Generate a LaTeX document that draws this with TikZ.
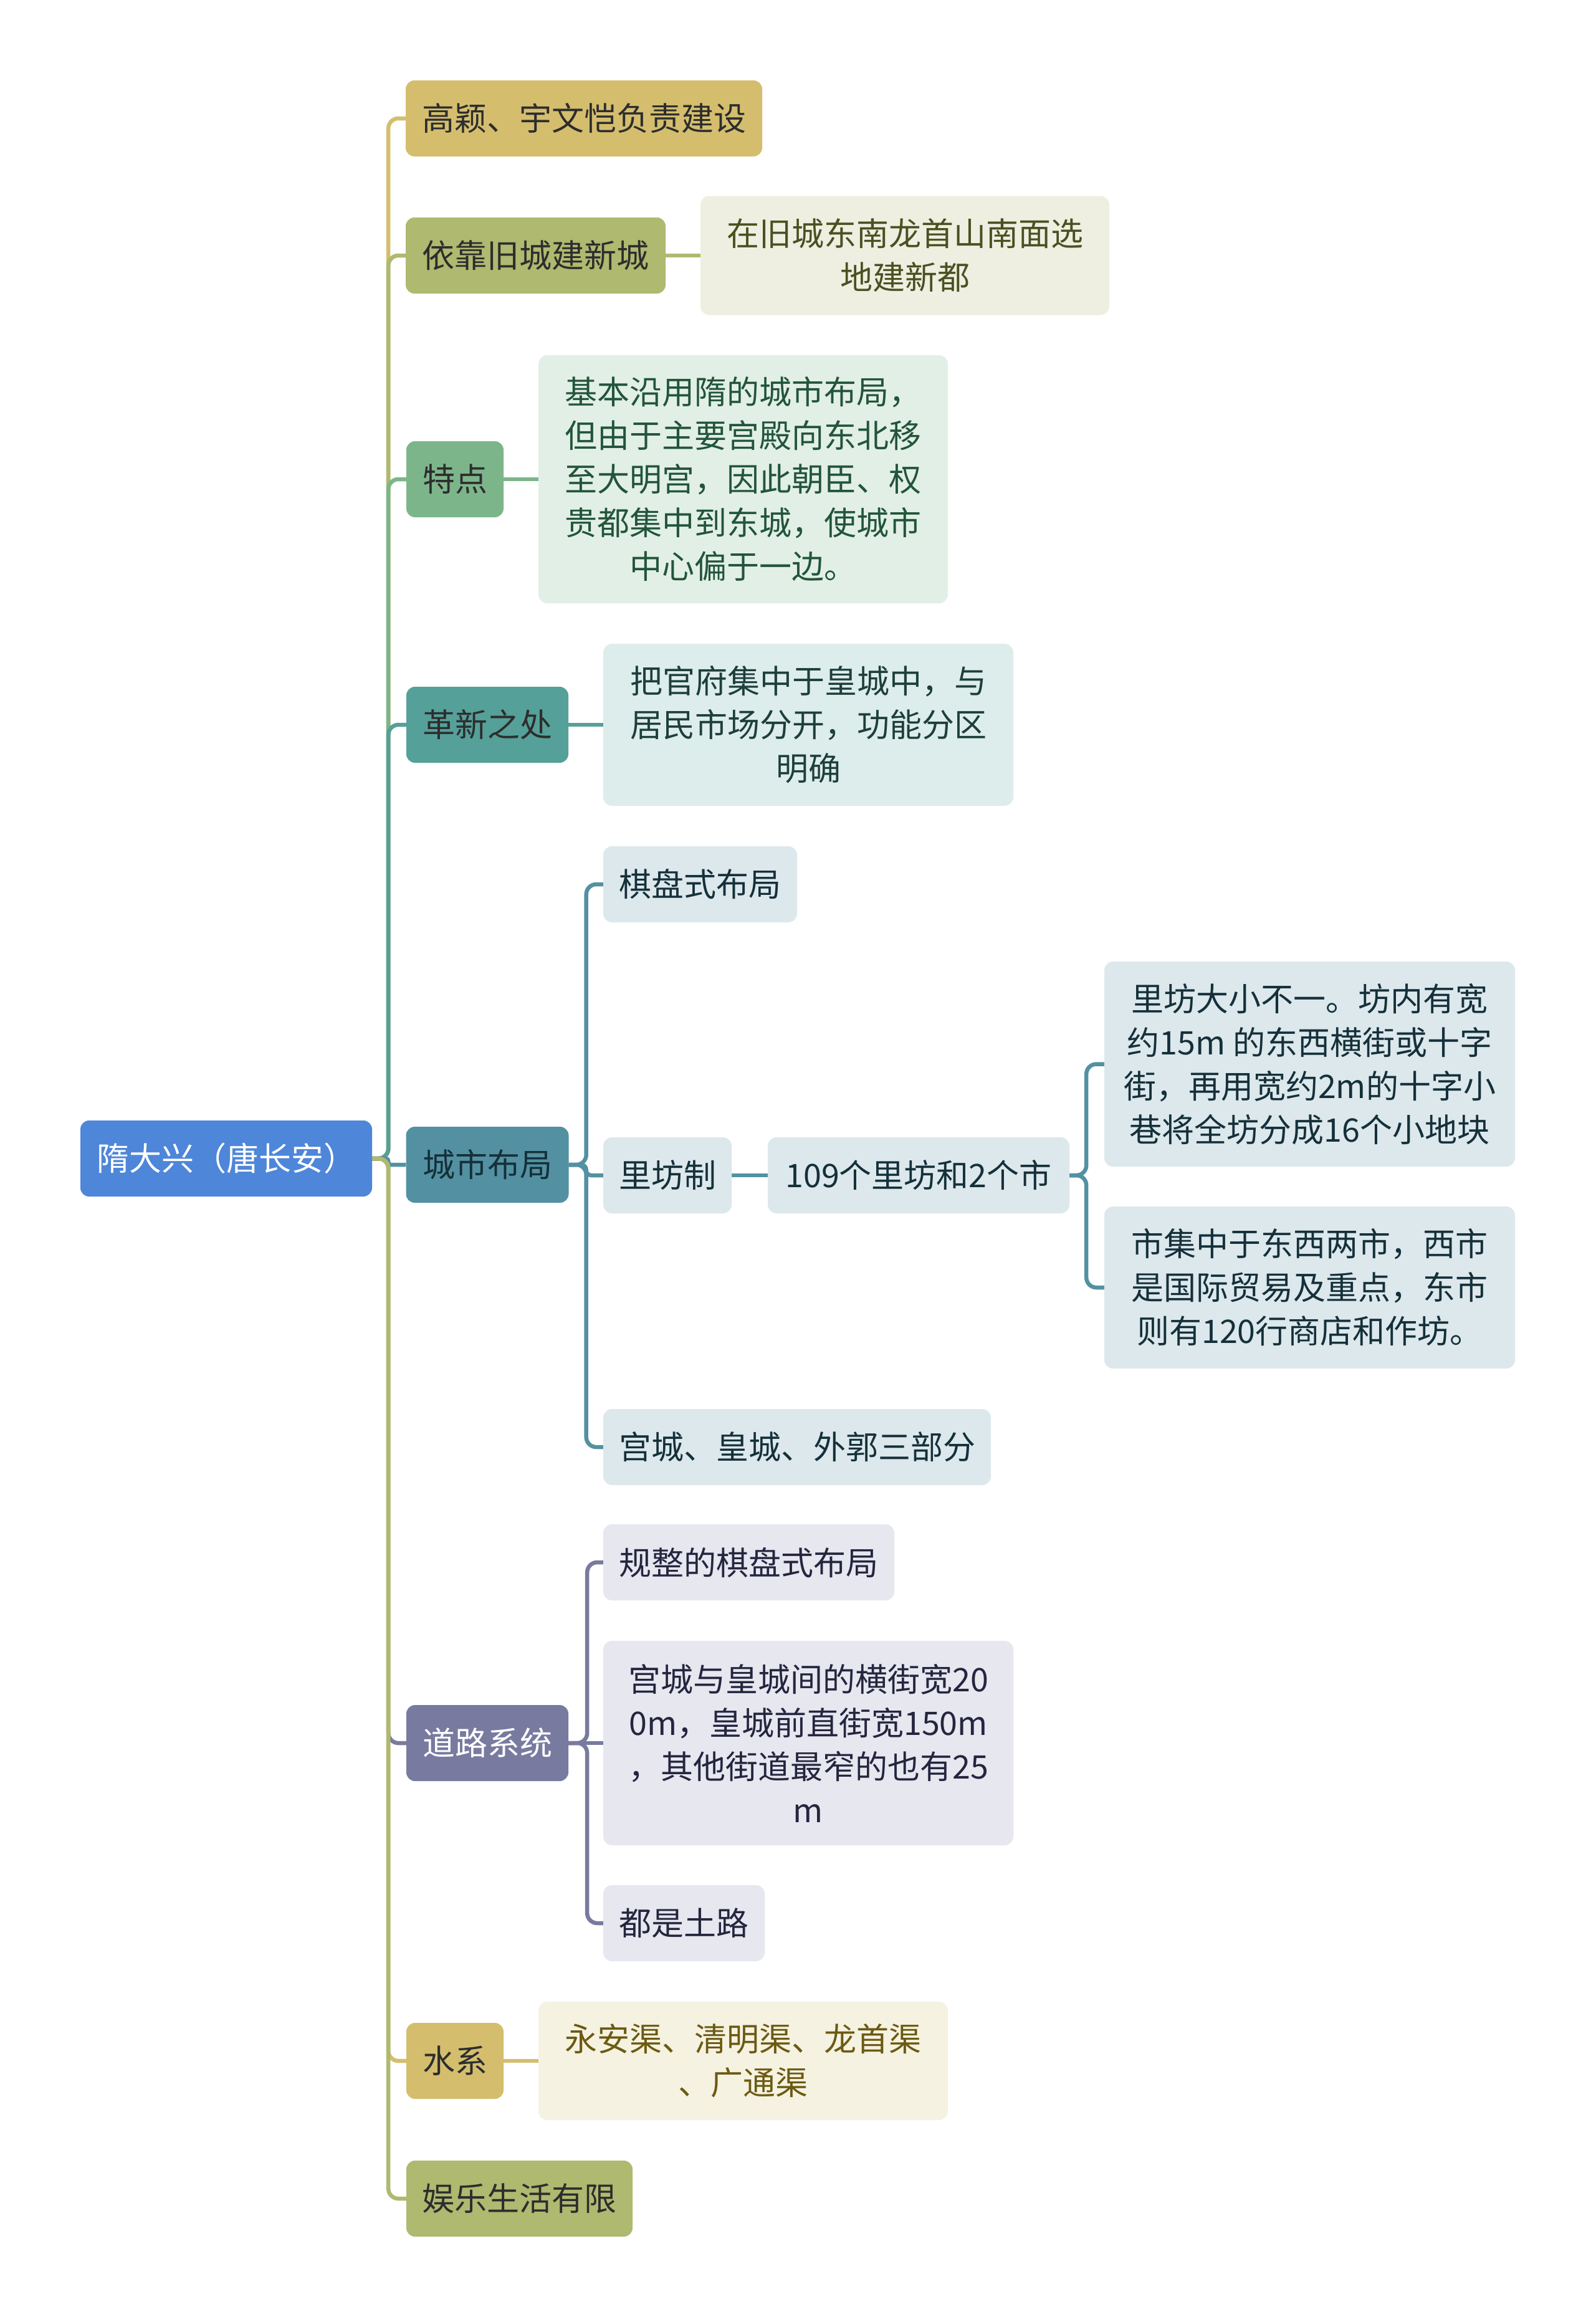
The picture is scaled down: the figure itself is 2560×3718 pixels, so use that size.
\documentclass[tikz,border=0pt]{standalone}
\usepackage{fontspec}
\setmainfont{Noto Sans CJK SC}
\usetikzlibrary{backgrounds}
\definecolor{cRoot}{HTML}{4E86DA}
\definecolor{cGold}{HTML}{D4BE6E}
\definecolor{cOlive}{HTML}{AFB96F}
\definecolor{cGreen}{HTML}{7DB58B}
\definecolor{cTeal}{HTML}{55A099}
\definecolor{cCity}{HTML}{5391A2}
\definecolor{cRoad}{HTML}{787A9F}
\definecolor{fOlive}{HTML}{EEEFE1}
\definecolor{tOlive}{HTML}{4A5020}
\definecolor{fGreen}{HTML}{E2EFE6}
\definecolor{tGreen}{HTML}{22553A}
\definecolor{fTeal}{HTML}{DDEDEB}
\definecolor{tTeal}{HTML}{1E3F3C}
\definecolor{fCity}{HTML}{DCE8EC}
\definecolor{tCity}{HTML}{15303A}
\definecolor{fRoad}{HTML}{E6E7EF}
\definecolor{tRoad}{HTML}{25253F}
\definecolor{fGold}{HTML}{F5F2E1}
\definecolor{tGold}{HTML}{6B5A12}
\definecolor{tDark}{HTML}{2D2D2D}
\begin{document}
\begin{tikzpicture}[x=1pt,y=-1pt,
  box/.style={rectangle, rounded corners=14pt, inner sep=0pt, align=center,
    font=\fontsize{52}{70}\selectfont},
  lone/.style={box, minimum height=122pt},
  link/.style={line width=6.5pt, rounded corners=16pt}]
\useasboundingbox (0,0) rectangle (2560,3718);

\node[lone, fill=cRoot, text=white, minimum width=468pt] (root) at (363,1859) {隋大兴（唐长安）};

\node[lone, fill=cGold, text=tDark, minimum width=572pt] (g1) at (937,190) {高颖、宇文恺负责建设};
\node[lone, fill=cOlive, text=tDark, minimum width=417pt] (g2) at (859.5,410) {依靠旧城建新城};
\node[box, fill=fOlive, text=tOlive, minimum width=656pt, minimum height=191pt] (g2c) at (1452,410) {在旧城东南龙首山南面选\\地建新都};
\node[lone, fill=cGreen, text=tDark, minimum width=156pt] (g3) at (730,769) {特点};
\node[box, fill=fGreen, text=tGreen, minimum width=657pt, minimum height=398pt] (g3c) at (1192.5,769) {基本沿用隋的城市布局，\\但由于主要宫殿向东北移\\至大明宫，因此朝臣、权\\贵都集中到东城，使城市\\中心偏于一边。};
\node[lone, fill=cTeal, text=tDark, minimum width=260pt] (g4) at (782,1163) {革新之处};
\node[box, fill=fTeal, text=tTeal, minimum width=658pt, minimum height=260pt] (g4c) at (1297,1163) {把官府集中于皇城中，与\\居民市场分开，功能分区\\明确};
\node[lone, fill=cCity, text=tCity, minimum width=261pt] (g5) at (782,1869) {城市布局};
\node[lone, fill=fCity, text=tCity, minimum width=311pt] (c1) at (1123.5,1419) {棋盘式布局};
\node[lone, fill=fCity, text=tCity, minimum width=206pt] (c2) at (1071,1886) {里坊制};
\node[lone, fill=fCity, text=tCity, minimum width=484pt] (c2a) at (1474,1886) {109个里坊和2个市};
\node[box, fill=fCity, text=tCity, minimum width=659pt, minimum height=329pt] (c2a1) at (2101.5,1707.5) {里坊大小不一。坊内有宽\\约15m 的东西横街或十字\\街，再用宽约2m的十字小\\巷将全坊分成16个小地块};
\node[box, fill=fCity, text=tCity, minimum width=659pt, minimum height=260pt] (c2a2) at (2101.5,2066) {市集中于东西两市，西市\\是国际贸易及重点，东市\\则有120行商店和作坊。};
\node[lone, fill=fCity, text=tCity, minimum width=622pt] (c3) at (1279,2322) {宫城、皇城、外郭三部分};
\node[lone, fill=cRoad, text=white, minimum width=260pt] (g6) at (782,2797) {道路系统};
\node[lone, fill=fRoad, text=tRoad, minimum width=467pt] (r1) at (1201.5,2507) {规整的棋盘式布局};
\node[box, fill=fRoad, text=tRoad, minimum width=658pt, minimum height=328pt] (r2) at (1297,2797) {宫城与皇城间的横街宽20\\0m，皇城前直街宽150m\\，其他街道最窄的也有25\\m};
\node[lone, fill=fRoad, text=tRoad, minimum width=259pt] (r3) at (1097.5,3086) {都是土路};
\node[lone, fill=cGold, text=tDark, minimum width=156pt] (g7) at (730,3307) {水系};
\node[box, fill=fGold, text=tGold, minimum width=657pt, minimum height=190pt] (g7c) at (1192.5,3307) {永安渠、清明渠、龙首渠\\、广通渠};
\node[lone, fill=cOlive, text=tDark, minimum width=363pt] (g8) at (833.5,3528) {娱乐生活有限};

\begin{scope}[on background layer]
\fill[white] (0,0) rectangle (2560,3718);
% level 1
\draw[link, cGold]  (root.east) -- ++(26,0) |- (g1.west);
\draw[link, cOlive] (root.east) -- ++(26,0) |- (g2.west);
\draw[link, cGreen] (root.east) -- ++(26,0) |- (g3.west);
\draw[link, cTeal]  (root.east) -- ++(26,0) |- (g4.west);
\draw[link, cCity, rounded corners=4pt] (root.east) -- ++(26,0) |- (g5.west);
\draw[link, cRoad]  (root.east) -- ++(26,0) |- (g6.west);
\draw[link, cGold]  (root.east) -- ++(26,0) |- (g7.west);
\draw[link, cOlive] (root.east) -- ++(26,0) |- (g8.west);
% direct children
\draw[link, cOlive] (g2.east) -- (g2c.west);
\draw[link, cGreen] (g3.east) -- (g3c.west);
\draw[link, cTeal]  (g4.east) -- (g4c.west);
\draw[link, cGold]  (g7.east) -- (g7c.west);
% city layout
\draw[link, cCity] (g5.east) -- ++(28,0) |- (c1.west);
\draw[link, cCity, rounded corners=8pt] (g5.east) -- ++(28,0) |- (c2.west);
\draw[link, cCity] (g5.east) -- ++(28,0) |- (c3.west);
\draw[link, cCity] (c2.east) -- (c2a.west);
\draw[link, cCity] (c2a.east) -- ++(27,0) |- (c2a1.west);
\draw[link, cCity] (c2a.east) -- ++(27,0) |- (c2a2.west);
% road system
\draw[link, cRoad] (g6.east) -- ++(30,0) |- (r1.west);
\draw[link, cRoad] (g6.east) -- (r2.west);
\draw[link, cRoad] (g6.east) -- ++(30,0) |- (r3.west);
\end{scope}
\end{tikzpicture}
\end{document}
